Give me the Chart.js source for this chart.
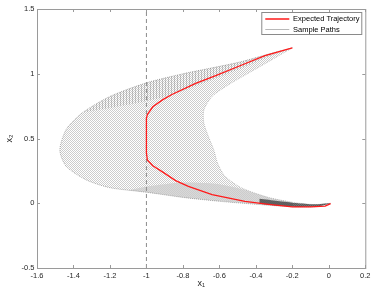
<!DOCTYPE html>
<html>
<head>
<meta charset="utf-8">
<title>Expected trajectory and sample paths</title>
<script src="https://cdn.jsdelivr.net/npm/chart.js@4.4.1/dist/chart.umd.min.js"></script>
<style>
  html, body { margin: 0; padding: 0; background: #fff; }
  #wrap { width: 374px; height: 294px; }
</style>
</head>
<body>
<div id="wrap"><canvas id="trajChart" width="374" height="294"></canvas></div>
<script>
// ====== Data ======
const xTicks = [-1.6, -1.4, -1.2, -1, -0.8, -0.6, -0.4, -0.2, 0, 0.2];
const yTicks = [-0.5, 0, 0.5, 1, 1.5];
const boundaryX = -1;

// red curve, [x1, x2]
const expectedPath = [
  [-0.20, 1.20], [-0.35, 1.14], [-0.49, 1.06], [-0.62, 0.985], [-0.73, 0.925],
  [-0.86, 0.84], [-0.91, 0.80], [-0.965, 0.745], [-0.995, 0.685], [-1.0, 0.655],
  [-1.0, 0.39], [-0.995, 0.335], [-0.965, 0.29], [-0.91, 0.24], [-0.84, 0.175],
  [-0.77, 0.13], [-0.64, 0.066], [-0.46, 0.014], [-0.33, -0.008], [-0.20, -0.028],
  [-0.10, -0.028], [-0.02, -0.022], [0.01, -0.003]
];

// widest sample path (left / outer edge of the fan)
const outerPath = [
  [-0.20, 1.20], [-0.31, 1.16], [-0.49, 1.09], [-0.66, 1.04], [-0.80, 1.00],
  [-1.00, 0.93], [-1.20, 0.825], [-1.35, 0.70], [-1.44, 0.57], [-1.475, 0.41],
  [-1.44, 0.285], [-1.33, 0.18], [-1.20, 0.12], [-1.00, 0.085], [-0.80, 0.045],
  [-0.60, 0.015], [-0.40, -0.008], [-0.20, -0.027], [-0.06, -0.025], [0.01, 0.0]
];

// tightest sample path (right / inner edge of the fan)
const innerPath = [
  [-0.20, 1.20], [-0.31, 1.11], [-0.44, 1.005], [-0.55, 0.915], [-0.64, 0.825],
  [-0.685, 0.72], [-0.685, 0.62], [-0.66, 0.515], [-0.63, 0.41], [-0.61, 0.31],
  [-0.57, 0.21], [-0.48, 0.12], [-0.33, 0.045], [-0.20, 0.008], [-0.08, -0.01],
  [0.01, 0.0]
];

// lower edge of the vertically hatched band near the start
const hatchLower = [
  [-1.35, 0.70], [-1.10, 0.76], [-0.90, 0.82], [-0.70, 0.92], [-0.50, 1.03],
  [-0.35, 1.12], [-0.20, 1.20]
];

// denser part of the fan along its bottom edge
const lowerBand = [
  [-1.10, 0.10], [-0.80, 0.045], [-0.60, 0.015], [-0.40, -0.008], [-0.20, -0.027],
  [-0.20, 0.008], [-0.33, 0.045], [-0.48, 0.11], [-0.62, 0.15], [-0.80, 0.16],
  [-1.00, 0.13]
];

// dark band where all paths converge near the origin
const tailTop = [[-0.38, 0.035], [-0.28, 0.018], [-0.18, 0.002], [-0.08, -0.008], [0.01, 0.0]];
const tailBottom = [[-0.06, -0.024], [-0.18, -0.028], [-0.28, -0.018], [-0.38, -0.004]];

const legendNames = ['Expected Trajectory', 'Sample Paths'];

// ====== Helpers ======
const toPts = arr => arr.map(([x, y]) => ({ x, y }));

function makePattern(w, h, cells) {
  const c = document.createElement('canvas');
  c.width = w;
  c.height = h;
  const g = c.getContext('2d');
  cells.forEach(([x, y, a]) => {
    g.fillStyle = `rgba(0,0,0,${a})`;
    g.fillRect(x, y, 1, 1);
  });
  return g.createPattern(c, 'repeat');
}

const dotFill = makePattern(2, 2, [[0, 0, 0.2], [1, 1, 0.2]]);
const hatchFill = makePattern(3, 1, [[0, 0, 0.17]]);
const denseFill = makePattern(2, 2, [[1, 0, 0.15], [0, 1, 0.15]]);

const envelope = outerPath.concat([...innerPath].reverse());
const hatchBand = outerPath.slice(0, 8).concat(hatchLower);
const tailBand = tailTop.concat(tailBottom);

// ====== Frame, inward ticks and legend border ======
const framePlugin = {
  id: 'frame',
  afterLayout(chart) {
    const a = chart.chartArea;
    chart.legend.left = a.right - 103;
    chart.legend.top = a.top + 3.25;
  },
  afterDraw(chart) {
    const { ctx, chartArea: a, scales: { x, y } } = chart;
    ctx.save();
    ctx.strokeStyle = '#9a9a9a';
    ctx.lineWidth = 1;
    ctx.strokeRect(a.left + 0.5, a.top + 0.5, a.right - a.left, a.bottom - a.top);
    ctx.beginPath();
    x.ticks.forEach(t => {
      const px = Math.round(x.getPixelForValue(t.value)) + 0.5;
      ctx.moveTo(px, a.bottom);
      ctx.lineTo(px, a.bottom - 3);
      ctx.moveTo(px, a.top);
      ctx.lineTo(px, a.top + 3);
    });
    y.ticks.forEach(t => {
      const py = Math.round(y.getPixelForValue(t.value)) + 0.5;
      ctx.moveTo(a.left, py);
      ctx.lineTo(a.left + 3, py);
      ctx.moveTo(a.right, py);
      ctx.lineTo(a.right - 3, py);
    });
    ctx.stroke();
    // legend border
    ctx.strokeStyle = '#8a8a8a';
    ctx.strokeRect(a.right - 103.5, a.top + 3.5, 100, 22);
    ctx.restore();
  }
};

Chart.defaults.font.family = '"Liberation Sans", Arial, sans-serif';
Chart.defaults.font.size = 7.5;
Chart.defaults.color = '#262626';

const ctx = document.getElementById('trajChart').getContext('2d');
new Chart(ctx, {
  type: 'scatter',
  data: {
    datasets: [
      {
        label: 'Expected Trajectory',
        data: toPts(expectedPath),
        showLine: true,
        borderColor: '#ff1a1a',
        borderWidth: 1.3,
        pointRadius: 0,
        pointStyle: 'line',
        tension: 0,
        order: 0
      },
      {
        label: 'Sample Paths',
        data: toPts(outerPath),
        showLine: true,
        borderColor: 'rgba(0,0,0,0.4)',
        borderWidth: 0.7,
        borderDash: [1, 1],
        pointRadius: 0,
        pointStyle: 'line',
        tension: 0.25,
        order: 5
      },
      {
        label: '',
        data: toPts(innerPath),
        showLine: true,
        borderColor: 'rgba(0,0,0,0.3)',
        borderWidth: 0.7,
        borderDash: [1, 1],
        pointRadius: 0,
        tension: 0.25,
        order: 5
      },
      {
        label: '',
        data: toPts(envelope),
        showLine: true,
        borderColor: 'transparent',
        backgroundColor: dotFill,
        fill: 'shape',
        pointRadius: 0,
        tension: 0.25,
        order: 10
      },
      {
        label: '',
        data: toPts(hatchBand),
        showLine: true,
        borderColor: 'transparent',
        backgroundColor: hatchFill,
        fill: 'shape',
        pointRadius: 0,
        tension: 0.25,
        order: 9
      },
      {
        label: '',
        data: toPts(lowerBand),
        showLine: true,
        borderColor: 'transparent',
        backgroundColor: denseFill,
        fill: 'shape',
        pointRadius: 0,
        tension: 0.25,
        order: 9
      },
      {
        label: '',
        data: toPts(tailBand),
        showLine: true,
        borderColor: 'transparent',
        backgroundColor: 'rgba(0,0,0,0.55)',
        fill: 'shape',
        pointRadius: 0,
        tension: 0.25,
        order: 8
      },
      {
        label: '',
        data: [{ x: boundaryX, y: yTicks[0] }, { x: boundaryX, y: yTicks[yTicks.length - 1] }],
        showLine: true,
        borderColor: '#8c8c8c',
        borderWidth: 1,
        borderDash: [4, 3],
        pointRadius: 0,
        order: 3
      }
    ]
  },
  options: {
    responsive: false,
    animation: false,
    devicePixelRatio: 1,
    layout: { padding: { top: 9, right: 7, left: 0, bottom: 0 } },
    plugins: {
      tooltip: { enabled: false },
      legend: {
        position: 'chartArea',
        align: 'start',
        labels: {
          usePointStyle: true,
          pointStyleWidth: 24,
          boxHeight: 7.5,
          padding: 3,
          color: '#000',
          font: { size: 7.5 },
          filter: item => legendNames.includes(item.text)
        }
      }
    },
    scales: {
      x: {
        type: 'linear',
        min: xTicks[0],
        max: xTicks[xTicks.length - 1],
        afterBuildTicks: s => { s.ticks = xTicks.map(v => ({ value: v })); },
        afterFit: s => { s.height = 26; },
        grid: { display: false, drawTicks: false },
        border: { display: false },
        ticks: { padding: 3.5, maxRotation: 0, callback: v => String(v) },
        title: { display: true, text: 'x₁', font: { size: 9 }, padding: { top: 0, bottom: 5 } }
      },
      y: {
        type: 'linear',
        min: yTicks[0],
        max: yTicks[yTicks.length - 1],
        afterBuildTicks: s => { s.ticks = yTicks.map(v => ({ value: v })); },
        afterFit: s => { s.width = 37; },
        grid: { display: false, drawTicks: false },
        border: { display: false },
        ticks: { padding: 2.5, callback: v => String(v) },
        title: { display: true, text: 'x₂', font: { size: 9 }, padding: { top: 4, bottom: 0 } }
      }
    }
  },
  plugins: [framePlugin]
});
</script>
</body>
</html>
